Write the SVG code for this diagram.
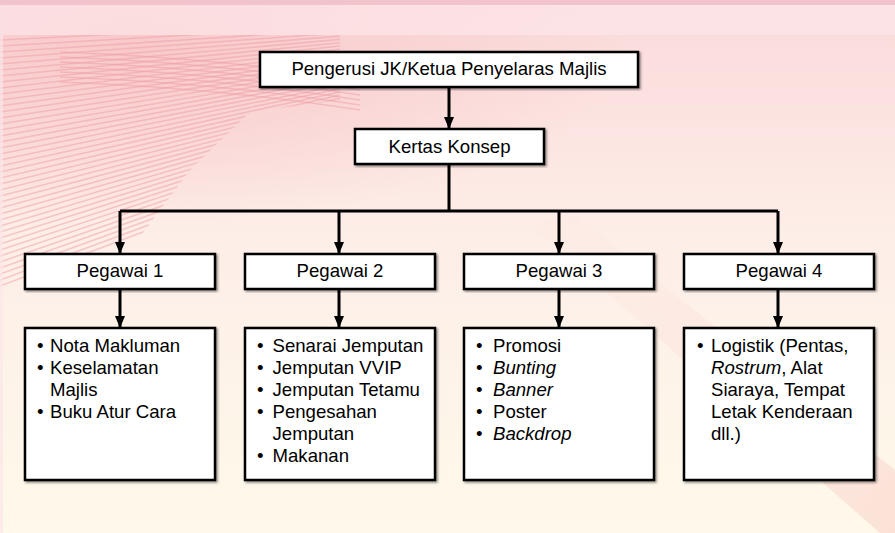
<svg xmlns="http://www.w3.org/2000/svg" width="895" height="533" viewBox="0 0 895 533">
<defs>
<linearGradient id="bg" x1="0" y1="0" x2="0" y2="1">
<stop offset="0" stop-color="#fad9da"/>
<stop offset="0.45" stop-color="#fdeee8"/>
<stop offset="1" stop-color="#fef9ea"/>
</linearGradient>
<radialGradient id="pinkGlow" cx="0.15" cy="0.15" r="0.55">
<stop offset="0" stop-color="#f7c4c6" stop-opacity="0.8"/>
<stop offset="1" stop-color="#f7c4c6" stop-opacity="0"/>
</radialGradient>
<linearGradient id="band" x1="0" y1="0" x2="1" y2="1">
<stop offset="0" stop-color="#fbe0dc" stop-opacity="0.1"/>
<stop offset="1" stop-color="#fbdcd2" stop-opacity="0.8"/>
</linearGradient>
<clipPath id="fan">
<polygon points="0,35 340,35 340,100 250,112 190,170 130,250 100,292 0,292"/>
</clipPath>
<marker id="arr" viewBox="0 0 12 10" refX="12" refY="5" markerWidth="12" markerHeight="10" markerUnits="userSpaceOnUse" orient="auto">
<path d="M0,0 L12,5 L0,10 Z" fill="#000"/>
</marker>
<filter id="sh" x="-5%" y="-5%" width="115%" height="115%">
<feDropShadow dx="1.5" dy="1.5" stdDeviation="0.8" flood-color="#000" flood-opacity="0.45"/>
</filter>
</defs>
<style>
.box{fill:#fff;stroke:#000;stroke-width:2.5;filter:url(#sh)}
.t{font-family:"Liberation Sans",Arial,sans-serif;font-size:18.6px;fill:#000}
.c{text-anchor:middle}
.i{font-style:italic}
.con{fill:none;stroke:#000;stroke-width:3}
.wave{fill:none;stroke:#f09ea5;stroke-width:1.6;opacity:0.5}
</style>
<!-- background -->
<rect x="0" y="0" width="895" height="533" fill="url(#bg)"/>
<rect x="0" y="0" width="895" height="320" fill="url(#pinkGlow)"/>
<polygon points="530,225 575,215 895,470 895,533 880,533" fill="url(#band)"/>
<g class="wave" clip-path="url(#fan)">
<path d="M0,40 L400,20"/><path d="M0,46 L400,22.8"/><path d="M0,52 L400,25.6"/><path d="M0,58 L400,28.4"/>
<path d="M0,64 L400,31.2"/><path d="M0,70 L400,34"/><path d="M0,76 L400,36.8"/><path d="M0,82 L400,39.6"/>
<path d="M0,88 L400,42.4"/><path d="M0,94 L400,45.2"/><path d="M0,100 L400,48"/><path d="M0,106 L400,50.8"/>
<path d="M0,112 L400,53.6"/><path d="M0,118 L400,56.4"/><path d="M0,124 L400,59.2"/><path d="M0,130 L400,62"/>
<path d="M0,136 L400,64.8"/><path d="M0,142 L400,67.6"/><path d="M0,148 L400,70.4"/><path d="M0,154 L400,73.2"/>
<path d="M0,160 L400,76"/><path d="M0,166 L400,78.8"/><path d="M0,172 L400,81.6"/><path d="M0,178 L400,84.4"/>
<path d="M0,184 L400,87.2"/><path d="M0,190 L400,90"/><path d="M0,196 L400,92.8"/><path d="M0,202 L400,95.6"/>
<path d="M0,208 L400,98.4"/><path d="M0,214 L400,101.2"/><path d="M0,220 L400,104"/><path d="M0,226 L400,106.8"/>
<path d="M0,232 L400,109.6"/><path d="M0,238 L400,112.4"/><path d="M0,244 L400,115.2"/><path d="M0,250 L400,118"/>
<path d="M0,256 L400,120.8"/><path d="M0,262 L400,123.6"/><path d="M0,268 L400,126.4"/><path d="M0,274 L400,129.2"/>
<path d="M0,280 L400,132"/><path d="M0,286 L400,134.8"/>
</g>
<g class="wave" opacity="0.3">
<path d="M60,52 Q220,58 360,80"/>
<path d="M60,57 Q220,63 360,85"/>
<path d="M60,62 Q220,68 360,90"/>
<path d="M60,67 Q220,73 360,95"/>
<path d="M60,72 Q220,78 360,100"/>
<path d="M60,77 Q220,83 360,105"/>
<path d="M60,82 Q220,88 360,110"/>
</g>
<rect x="0" y="0" width="895" height="5" fill="#f2c3ca"/>
<rect x="3" y="5" width="892" height="30" fill="#fde9ec" opacity="0.6"/>
<rect x="0" y="5" width="3" height="528" fill="#fbe6e8" opacity="0.7"/>

<!-- connectors -->
<g id="connectors">
<path class="con" d="M449,87 V129" marker-end="url(#arr)"/>
<path class="con" d="M449,164 V211"/>
<path class="con" d="M120,211 H778"/>
<path class="con" d="M120,211 V254" marker-end="url(#arr)"/>
<path class="con" d="M339,211 V254" marker-end="url(#arr)"/>
<path class="con" d="M559,211 V254" marker-end="url(#arr)"/>
<path class="con" d="M778,211 V254" marker-end="url(#arr)"/>
<path class="con" d="M120,289 V328" marker-end="url(#arr)"/>
<path class="con" d="M339,289 V328" marker-end="url(#arr)"/>
<path class="con" d="M559,289 V328" marker-end="url(#arr)"/>
<path class="con" d="M778,289 V328" marker-end="url(#arr)"/>
</g>

<g id="pengerusi">
<rect class="box" x="260" y="52" width="378" height="35"/>
<text class="t c" x="449" y="75">Pengerusi JK/Ketua Penyelaras Majlis</text>
</g>
<g id="kertas-konsep">
<rect class="box" x="355" y="129" width="189" height="35"/>
<text class="t c" x="449.5" y="153">Kertas Konsep</text>
</g>

<g id="pegawai1">
<rect class="box" x="25" y="254" width="190" height="35"/>
<text class="t c" x="120" y="277">Pegawai 1</text>
</g>
<g id="pegawai2">
<rect class="box" x="245" y="254" width="190" height="35"/>
<text class="t c" x="340" y="277">Pegawai 2</text>
</g>
<g id="pegawai3">
<rect class="box" x="464" y="254" width="190" height="35"/>
<text class="t c" x="559" y="277">Pegawai 3</text>
</g>
<g id="pegawai4">
<rect class="box" x="684" y="254" width="190" height="35"/>
<text class="t c" x="779" y="277">Pegawai 4</text>
</g>

<g id="tugas1">
<rect class="box" x="25" y="328" width="190" height="152"/>
<text class="t" x="37" y="352">•</text><text class="t" x="50" y="352">Nota Makluman</text>
<text class="t" x="37" y="374">•</text><text class="t" x="50" y="374">Keselamatan</text>
<text class="t" x="50" y="396">Majlis</text>
<text class="t" x="37" y="418">•</text><text class="t" x="50" y="418">Buku Atur Cara</text>
</g>
<g id="tugas2">
<rect class="box" x="245" y="328" width="190" height="152"/>
<text class="t" x="257" y="352">•</text><text class="t" x="272.5" y="352">Senarai Jemputan</text>
<text class="t" x="257" y="374">•</text><text class="t" x="272.5" y="374">Jemputan VVIP</text>
<text class="t" x="257" y="396">•</text><text class="t" x="272.5" y="396">Jemputan Tetamu</text>
<text class="t" x="257" y="418">•</text><text class="t" x="272.5" y="418">Pengesahan</text>
<text class="t" x="272.5" y="440">Jemputan</text>
<text class="t" x="257" y="462">•</text><text class="t" x="272.5" y="462">Makanan</text>
</g>
<g id="tugas3">
<rect class="box" x="464" y="328" width="190" height="152"/>
<text class="t" x="476" y="352">•</text><text class="t" x="493" y="352">Promosi</text>
<text class="t" x="476" y="374">•</text><text class="t i" x="493" y="374">Bunting</text>
<text class="t" x="476" y="396">•</text><text class="t i" x="493" y="396">Banner</text>
<text class="t" x="476" y="418">•</text><text class="t" x="493" y="418">Poster</text>
<text class="t" x="476" y="440">•</text><text class="t i" x="493" y="440">Backdrop</text>
</g>
<g id="tugas4">
<rect class="box" x="684" y="328" width="190" height="152"/>
<text class="t" x="697" y="352">•</text><text class="t" x="711" y="352">Logistik (Pentas,</text>
<text class="t" x="711" y="374"><tspan class="i">Rostrum</tspan>, Alat</text>
<text class="t" x="711" y="396">Siaraya, Tempat</text>
<text class="t" x="711" y="418">Letak Kenderaan</text>
<text class="t" x="711" y="440">dll.)</text>
</g>
</svg>
